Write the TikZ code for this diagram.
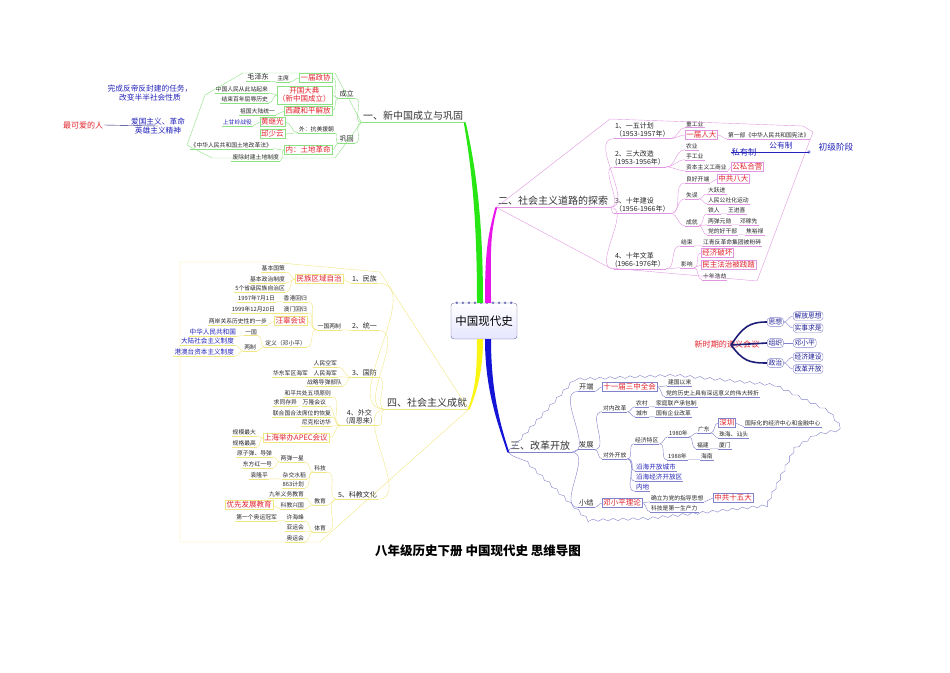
\documentclass[tikz,border=0pt]{standalone}
\usepackage{fontspec}
\newfontfamily\cjk{Noto Sans CJK SC}
\usetikzlibrary{calc,decorations.pathmorphing}

\definecolor{lineA}{RGB}{140,225,130}
\definecolor{lineB}{RGB}{225,150,225}
\definecolor{lineC}{RGB}{130,130,205}
\definecolor{lineD}{RGB}{240,230,130}
\definecolor{trunkA}{RGB}{40,230,20}
\definecolor{trunkB}{RGB}{235,20,235}
\definecolor{trunkC}{RGB}{20,20,215}
\definecolor{trunkD}{RGB}{250,245,20}
\definecolor{inkR}{RGB}{225,35,45}
\definecolor{inkB}{RGB}{35,35,185}
\definecolor{deepblue}{RGB}{30,30,120}

\begin{document}
\begin{tikzpicture}[
    x=1pt, y=-1pt,
    font=\cjk,
    brline/.style={draw=lineA},
    txt/.style={font=\cjk\fontsize{5.8}{6.6}\selectfont, text=black!85, inner sep=0.9pt, align=center},
    leaf/.style={txt, append after command={(\tikzlastnode.south west) edge[brline] (\tikzlastnode.south east)}},
    mid/.style={leaf, font=\cjk\fontsize{7.2}{8.2}\selectfont},
    item/.style={leaf, font=\cjk\fontsize{7}{8.4}\selectfont},
    bleaf/.style={leaf, text=inkB, font=\cjk\fontsize{6.6}{7.5}\selectfont},
    hot/.style={brline, text=inkR, font=\cjk\fontsize{7.5}{8.3}\selectfont, inner sep=1.1pt, align=center},
    note/.style={text=inkB, font=\cjk\fontsize{7.7}{9.2}\selectfont, align=center, inner sep=0.8pt},
    topic/.style={leaf, font=\cjk\fontsize{10}{12}\selectfont, text=black!80, inner sep=1.5pt},
    root/.style={draw=lineC!80!black, rounded corners=3pt, top color=white, bottom color=blue!10,
        minimum width=66pt, minimum height=36pt, font=\cjk\fontsize{11.5}{13}\selectfont},
    pill/.style={draw=lineC, rounded corners=3pt, text=inkB!80!black,
        font=\cjk\fontsize{6.8}{8}\selectfont, inner sep=1.3pt},
    caption/.style={font=\cjk\bfseries\fontsize{12.5}{14}\selectfont}
]
\useasboundingbox (0,0) rectangle (950,672);

\node[root] (ctr) at (484,321) {中国现代史};
\foreach \k in {1,...,10}
    \fill[lineC!90!black] ($(ctr.north west)!\k/11!(ctr.north east)$) circle (1.4pt);

% ============================================================
% 一、新中国成立与巩固
% ============================================================
\begin{scope}[brline/.style={draw=lineA}]
\node[topic] (b1) at (413,116) {一、新中国成立与巩固};
\node[mid, anchor=east] (setup) at (355,94) {成立};
\node[mid, anchor=east] (guard) at (355,139) {巩固};

\node[hot, anchor=east] (zx) at (332,78) {一届政协};
\node[leaf, anchor=east] (zx1) at (290,78) {主席};
\node[mid, anchor=east] (zx2) at (270,77) {毛泽东};
\node[hot, anchor=east] (kg) at (332,95) {开国大典\\（新中国成立）};
\node[leaf, anchor=east] (kg1) at (269,89) {中国人民从此站起来};
\node[leaf, anchor=east] (kg2) at (269,99) {结束百年屈辱历史};
\node[hot, anchor=east] (xz) at (332,111) {西藏和平解放};
\node[leaf, anchor=east] (xz1) at (276,111) {祖国大陆统一};

\node[leaf, anchor=east] (kmyc) at (335,129) {外：抗美援朝};
\node[hot, anchor=east] (hjg) at (285,122) {黄继光};
\node[hot, anchor=east] (qsy) at (285,134) {邱少云};
\node[leaf, anchor=east, text=inkB] (sgl) at (253,122) {上甘岭战役};
\node[hot, anchor=east] (tdgm) at (332,150) {内：土地革命};
\node[leaf, anchor=east] (tdgm1) at (273,145) {《中华人民共和国土地改革法》};
\node[leaf, anchor=east] (tdgm2) at (280,157) {废除封建土地制度};

\foreach \c in {setup, guard}
    \draw[brline] (b1.south west) to[out=180,in=0] (\c.south east);
\foreach \c in {zx, kg, xz}
    \draw[brline] (setup.south west) to[out=180,in=0] (\c.east);
\draw[brline] (zx.west) to[out=180,in=0] (zx1.south east);
\draw[brline] (zx1.south west) to[out=180,in=0] (zx2.south east);
\foreach \c in {kg1, kg2}
    \draw[brline] (kg.west) to[out=180,in=0] (\c.south east);
\draw[brline] (xz.west) to[out=180,in=0] (xz1.south east);
\draw[brline] (guard.south west) to[out=180,in=0] (kmyc.south east);
\draw[brline] (guard.south west) to[out=180,in=0] (tdgm.east);
\foreach \c in {hjg, qsy}
    \draw[brline] (kmyc.south west) to[out=180,in=0] (\c.east);
\draw[brline] (hjg.west) to[out=180,in=0] (sgl.south east);
\foreach \c in {tdgm1, tdgm2}
    \draw[brline] (tdgm.west) to[out=180,in=0] (\c.south east);

\draw[brline] (b1.south west) -- (335,73) -- (243,73) -- (205,95) -- (187,145)
    -- (212,158) -- (335,158) -- cycle;
\end{scope}

% notes beside branch 1
\node[note] (task) at (150,93) {完成反帝反封建的任务，\\改变半半社会性质};
\node[note] (spirit) at (158,126) {爱国主义、革命\\英雄主义精神};
\node[note, text=inkR, font=\cjk\fontsize{8}{9}\selectfont] (love) at (83,125) {最可爱的人};
\draw[deepblue] (love.east) -- (spirit.center);

% ============================================================
% 二、社会主义道路的探索
% ============================================================
\begin{scope}[brline/.style={draw=lineB}]
\node[topic] (b2) at (553,201) {二、社会主义道路的探索};
\node[item, anchor=west, align=left] (plan) at (614,130) {1、一五计划\\（1953-1957年）};
\node[item, anchor=west, align=left] (reform) at (614,158) {2、三大改造\\(1953-1956年）};
\node[item, anchor=west, align=left] (build) at (614,205) {3、十年建设\\（1956-1966年）};
\node[item, anchor=west, align=left] (chaos) at (614,260) {4、十年文革\\(1966-1976年）};

\node[leaf, anchor=west] (heavy) at (685,124) {重工业};
\node[hot, anchor=west] (npc) at (685,135) {一届人大};
\node[leaf, anchor=west] (law) at (727,135) {第一部《中华人民共和国宪法》};

\node[leaf, anchor=west] (agri) at (685,146) {农业};
\node[leaf, anchor=west] (craft) at (685,156) {手工业};
\node[leaf, anchor=west] (capital) at (685,167) {资本主义工商业};
\node[hot, anchor=west] (joint) at (731,167) {公私合营};

\node[leaf, anchor=west] (good) at (685,179) {良好开端};
\node[hot, anchor=west] (bada) at (717,179) {中共八大};
\node[leaf, anchor=west] (miss) at (685,195) {失误};
\node[leaf, anchor=west] (leap) at (707,190) {大跃进};
\node[leaf, anchor=west] (commune) at (707,200) {人民公社化运动};
\node[leaf, anchor=west] (gain) at (685,222) {成就};
\node[leaf, anchor=west] (tr) at (707,210) {铁人};
\node[leaf, anchor=west] (wjx) at (727,210) {王进喜};
\node[leaf, anchor=west] (ld) at (707,221) {两弹元勋};
\node[leaf, anchor=west] (djx) at (739,221) {邓稼先};
\node[leaf, anchor=west] (gb) at (707,231) {党的好干部};
\node[leaf, anchor=west] (jyl) at (745,231) {焦裕禄};

\node[leaf, anchor=west] (fin) at (680,242) {结束};
\node[leaf, anchor=west] (jq) at (702,242) {江青反革命集团被粉碎};
\node[leaf, anchor=west] (eff) at (680,264) {影响};
\node[hot, anchor=west] (econ) at (701,253) {经济破坏};
\node[hot, anchor=west] (demo) at (701,265) {民主法治被践踏};
\node[leaf, anchor=west] (ten) at (702,276) {十年浩劫};

\foreach \c in {plan, reform, build, chaos}
    \draw[brline] (b2.south east) to[out=0,in=180] (\c.south west);
\draw[brline] (plan.south east) to[out=0,in=180] (heavy.south west);
\draw[brline] (plan.south east) to[out=0,in=180] (npc.west);
\draw[brline] (npc.east) to[out=0,in=180] (law.south west);
\foreach \c in {agri, craft, capital}
    \draw[brline] (reform.south east) to[out=0,in=180] (\c.south west);
\draw[brline] (capital.south east) to[out=0,in=180] (joint.west);
\foreach \c in {good, miss, gain}
    \draw[brline] (build.south east) to[out=0,in=180] (\c.south west);
\draw[brline] (good.south east) to[out=0,in=180] (bada.west);
\foreach \c in {leap, commune}
    \draw[brline] (miss.south east) to[out=0,in=180] (\c.south west);
\foreach \c in {tr, ld, gb}
    \draw[brline] (gain.south east) to[out=0,in=180] (\c.south west);
\draw[brline] (tr.south east) -- (wjx.south west);
\draw[brline] (ld.south east) -- (djx.south west);
\draw[brline] (gb.south east) -- (jyl.south west);
\foreach \c in {fin, eff}
    \draw[brline] (chaos.south east) to[out=0,in=180] (\c.south west);
\draw[brline] (fin.south east) -- (jq.south west);
\foreach \c in {econ, demo}
    \draw[brline] (eff.south east) to[out=0,in=180] (\c.west);
\draw[brline] (eff.south east) to[out=0,in=180] (ten.south west);

\draw[brline] (b2.south west) -- (610,119) -- (803,126) -- (813,132) -- (757,281)
    -- (610,268) -- cycle;
\end{scope}

% ownership note
\node[note, font=\cjk\fontsize{8.3}{9}\selectfont] (own1) at (744,152) {私有制};
\node[note] (own2) at (781,146) {公有制};
\node[note, font=\cjk\fontsize{8.7}{10}\selectfont] (own3) at (836,147) {初级阶段};
\coordinate (ownend) at (809,152);
\draw[inkB, thick] (own1.west) -- (ownend);
\draw[inkB] (ownend) circle (1.3pt);

% ============================================================
% 新时期的遵义会议
% ============================================================
\node[note, text=inkR, font=\cjk\fontsize{8.1}{9}\selectfont] (zy) at (727,344) {新时期的遵义会议};
\coordinate (zyhub) at (731,345);
\node[pill, anchor=west] (sx) at (767,322) {思想};
\node[pill, anchor=west] (zz) at (767,343) {组织};
\node[pill, anchor=west] (zhz) at (767,363) {政治};
\node[pill, anchor=west] (jf) at (793,316) {解放思想};
\node[pill, anchor=west] (ss) at (793,328) {实事求是};
\node[pill, anchor=west] (dx) at (793,343) {邓小平};
\node[pill, anchor=west] (jj) at (793,357) {经济建设};
\node[pill, anchor=west] (gk) at (793,369) {改革开放};

\draw[deepblue, line width=1.6pt] (zyhub) .. controls +(12,-18) and +(-18,0) .. (sx.west);
\draw[deepblue, line width=1.6pt] (zyhub) -- (zz.west);
\draw[deepblue, line width=1.6pt] (zyhub) .. controls +(12,16) and +(-18,0) .. (zhz.west);
\foreach \c in {jf, ss}
    \draw[lineC] (sx.east) to[out=0,in=180] (\c.west);
\draw[lineC] (zz.east) -- (dx.west);
\foreach \c in {jj, gk}
    \draw[lineC] (zhz.east) to[out=0,in=180] (\c.west);

% ============================================================
% 三、改革开放
% ============================================================
\begin{scope}[brline/.style={draw=lineC}]
\node[topic] (b3) at (540,446) {三、改革开放};
\node[mid, anchor=west] (open) at (578,387) {开端};
\node[mid, anchor=west] (grow) at (578,445) {发展};
\node[mid, anchor=west] (sum) at (578,503) {小结};

\node[hot, anchor=west] (sz) at (602,387) {十一届三中全会};
\node[leaf, anchor=west] (jg) at (667,382) {建国以来};
\node[leaf, anchor=west] (turn) at (665,393) {党的历史上具有深远意义的伟大转折};

\node[leaf, anchor=west] (inner) at (602,408) {对内改革};
\node[leaf, anchor=west] (rural) at (635,403) {农村};
\node[leaf, anchor=west] (hh) at (655,403) {家庭联产承包制};
\node[leaf, anchor=west] (urban) at (635,413) {城市};
\node[leaf, anchor=west] (soe) at (655,413) {国有企业改革};

\node[leaf, anchor=west] (outer) at (602,455) {对外开放};
\node[leaf, anchor=west] (sez) at (634,440) {经济特区};
\node[leaf, anchor=west] (y80) at (668,433) {1980年};
\node[leaf, anchor=west] (gd) at (697,429) {广东};
\node[hot, anchor=west] (szn) at (718,423) {深圳};
\node[leaf, anchor=west] (intl) at (744,423) {国际化的经济中心和金融中心};
\node[leaf, anchor=west] (zhst) at (718,434) {珠海、汕头};
\node[leaf, anchor=west] (fj) at (696,445) {福建};
\node[leaf, anchor=west] (xm) at (718,445) {厦门};
\node[leaf, anchor=west] (y88) at (667,456) {1988年};
\node[leaf, anchor=west] (hn) at (700,456) {海南};
\node[bleaf, anchor=west] (coast1) at (635,467) {沿海开放城市};
\node[bleaf, anchor=west] (coast2) at (635,477) {沿海经济开放区};
\node[bleaf, anchor=west] (inland) at (635,487) {内地};

\node[hot, anchor=west] (dxp) at (602,503) {邓小平理论};
\node[leaf, anchor=west] (guide) at (650,498) {确立为党的指导思想};
\node[hot, anchor=west] (cpc) at (713,498) {中共十五大};
\node[leaf, anchor=west] (force) at (650,508) {科技是第一生产力};

\foreach \c in {open, grow, sum}
    \draw[brline] (b3.south east) to[out=0,in=180] (\c.south west);
\draw[brline] (open.south east) to[out=0,in=180] (sz.west);
\foreach \c in {jg, turn}
    \draw[brline] (sz.east) to[out=0,in=180] (\c.south west);
\foreach \c in {inner, outer}
    \draw[brline] (grow.south east) to[out=0,in=180] (\c.south west);
\foreach \c in {rural, urban}
    \draw[brline] (inner.south east) to[out=0,in=180] (\c.south west);
\draw[brline] (rural.south east) -- (hh.south west);
\draw[brline] (urban.south east) -- (soe.south west);
\foreach \c in {sez, coast1, coast2, inland}
    \draw[brline] (outer.south east) to[out=0,in=180] (\c.south west);
\foreach \c in {y80, y88}
    \draw[brline] (sez.south east) to[out=0,in=180] (\c.south west);
\foreach \c in {gd, fj}
    \draw[brline] (y80.south east) to[out=0,in=180] (\c.south west);
\draw[brline] (gd.south east) to[out=0,in=180] (szn.west);
\draw[brline] (gd.south east) to[out=0,in=180] (zhst.south west);
\draw[brline] (szn.east) -- (intl.south west);
\draw[brline] (fj.south east) -- (xm.south west);
\draw[brline] (y88.south east) -- (hn.south west);
\draw[brline] (sum.south east) to[out=0,in=180] (dxp.west);
\foreach \c in {guide, force}
    \draw[brline] (dxp.east) to[out=0,in=180] (\c.south west);
\draw[brline] (guide.south east) to[out=0,in=180] (cpc.west);

\draw[brline, decorate, decoration={snake, amplitude=1.2pt, segment length=10pt}]
    (b3.south west) -- (573,381) -- (670,377) -- (770,387) -- (826,414) -- (836,428)
    -- (810,433) -- (787,448) -- (760,503) -- (640,516) -- (578,518) -- cycle;
\end{scope}

% ============================================================
% 四、社会主义成就
% ============================================================
\begin{scope}[brline/.style={draw=lineD}]
\node[topic] (b4) at (427,403) {四、社会主义成就};
\node[item, anchor=east] (nat) at (378,279) {1、民族};
\node[item, anchor=east] (uni) at (378,326) {2、统一};
\node[item, anchor=east] (def) at (378,373) {3、国防};
\node[item, anchor=east] (dip) at (378,417) {4、外交\\（周恩来）};
\node[item, anchor=east] (sct) at (378,495) {5、科教文化};

\node[hot, anchor=east] (auto) at (343,279) {民族区域自治};
\node[leaf, anchor=east] (pol1) at (286,268) {基本国策};
\node[leaf, anchor=east] (pol2) at (286,279) {基本政治制度};
\node[leaf, anchor=east] (pol3) at (286,288) {5个省级民族自治区};

\node[leaf, anchor=east] (ocs) at (342,326) {一国两制};
\node[leaf, anchor=east] (hk) at (308,298) {香港回归};
\node[leaf, anchor=east] (hk1) at (276,298) {1997年7月1日};
\node[leaf, anchor=east] (mo) at (308,309) {澳门回归};
\node[leaf, anchor=east] (mo1) at (276,309) {1999年12月20日};
\node[hot, anchor=east] (wg) at (307,321) {汪辜会谈};
\node[leaf, anchor=east] (wg1) at (268,321) {两岸关系历史性的一步};
\node[leaf, anchor=east] (meaning) at (307,343) {定义（邓小平）};
\node[leaf, anchor=east] (one) at (258,332) {一国};
\node[bleaf, anchor=east] (prc) at (237,332) {中华人民共和国};
\node[leaf, anchor=east] (two) at (257,347) {两制};
\node[bleaf, anchor=east] (mainland) at (235,341) {大陆社会主义制度};
\node[bleaf, anchor=east] (hmt) at (235,352) {港澳台资本主义制度};

\node[leaf, anchor=east] (air) at (338,363) {人民空军};
\node[leaf, anchor=east] (sea) at (338,373) {人民海军};
\node[leaf, anchor=east] (sea1) at (309,373) {华东军区海军};
\node[leaf, anchor=east] (missile) at (343,382) {战略导弹部队};

\node[leaf, anchor=east] (five) at (332,393) {和平共处五项原则};
\node[leaf, anchor=east] (bandung) at (327,402) {万隆会议};
\node[leaf, anchor=east] (qt) at (298,402) {求同存异};
\node[leaf, anchor=east] (un) at (332,413) {联合国合法席位的恢复};
\node[leaf, anchor=east] (nixon) at (332,422) {尼克松访华};
\node[hot, anchor=east] (apec) at (329,438) {上海举办APEC会议};
\node[leaf, anchor=east] (big) at (257,432) {规模最大};
\node[leaf, anchor=east] (high) at (257,443) {规格最高};

\node[leaf, anchor=east] (tech) at (327,468) {科技};
\node[leaf, anchor=east] (bomb) at (305,458) {两弹一星};
\node[leaf, anchor=east] (atom) at (273,453) {原子弹、导弹};
\node[leaf, anchor=east] (dfh) at (273,464) {东方红一号};
\node[leaf, anchor=east] (rice) at (307,475) {杂交水稻};
\node[leaf, anchor=east] (ylp) at (269,475) {袁隆平};
\node[leaf, anchor=east] (p863) at (305,484) {863计划};
\node[leaf, anchor=east] (edu) at (327,501) {教育};
\node[leaf, anchor=east] (nine) at (305,494) {九年义务教育};
\node[leaf, anchor=east] (kjxg) at (305,505) {科教兴国};
\node[hot, anchor=east] (prior) at (273,505) {优先发展教育};
\node[leaf, anchor=east] (sport) at (327,528) {体育};
\node[leaf, anchor=east] (xhf) at (305,517) {许海峰};
\node[leaf, anchor=east] (champ) at (278,517) {第一个奥运冠军};
\node[leaf, anchor=east] (asian) at (305,527) {亚运会};
\node[leaf, anchor=east] (olymp) at (305,538) {奥运会};

\foreach \c in {nat, uni, def, dip, sct}
    \draw[brline] (b4.south west) to[out=180,in=0] (\c.south east);
\draw[brline] (nat.south west) -- (auto.east);
\foreach \c in {pol1, pol2, pol3}
    \draw[brline] (auto.west) to[out=180,in=0] (\c.south east);
\draw[brline] (uni.south west) -- (ocs.south east);
\foreach \c in {hk, mo, meaning}
    \draw[brline] (ocs.south west) to[out=180,in=0] (\c.south east);
\draw[brline] (ocs.south west) to[out=180,in=0] (wg.east);
\draw[brline] (hk.south west) -- (hk1.south east);
\draw[brline] (mo.south west) -- (mo1.south east);
\draw[brline] (wg.west) -- (wg1.south east);
\foreach \c in {one, two}
    \draw[brline] (meaning.south west) to[out=180,in=0] (\c.south east);
\draw[brline] (one.south west) -- (prc.south east);
\foreach \c in {mainland, hmt}
    \draw[brline] (two.south west) to[out=180,in=0] (\c.south east);
\foreach \c in {air, sea, missile}
    \draw[brline] (def.south west) to[out=180,in=0] (\c.south east);
\draw[brline] (sea.south west) -- (sea1.south east);
\foreach \c in {five, bandung, un, nixon}
    \draw[brline] (dip.south west) to[out=180,in=0] (\c.south east);
\draw[brline] (dip.south west) to[out=180,in=0] (apec.east);
\draw[brline] (bandung.south west) -- (qt.south east);
\foreach \c in {big, high}
    \draw[brline] (apec.west) to[out=180,in=0] (\c.south east);
\foreach \c in {tech, edu, sport}
    \draw[brline] (sct.south west) to[out=180,in=0] (\c.south east);
\foreach \c in {bomb, rice, p863}
    \draw[brline] (tech.south west) to[out=180,in=0] (\c.south east);
\foreach \c in {atom, dfh}
    \draw[brline] (bomb.south west) to[out=180,in=0] (\c.south east);
\draw[brline] (rice.south west) -- (ylp.south east);
\foreach \c in {nine, kjxg}
    \draw[brline] (edu.south west) to[out=180,in=0] (\c.south east);
\draw[brline] (kjxg.south west) -- (prior.east);
\foreach \c in {xhf, asian, olymp}
    \draw[brline] (sport.south west) to[out=180,in=0] (\c.south east);
\draw[brline] (xhf.south west) -- (champ.south east);

\draw[brline] (b4.south east) -- (380,272) -- (270,262) -- (180,262) -- (180,542)
    -- (320,542) -- cycle;
\end{scope}

% ============================================================
% main branches (tapered)
% ============================================================
\fill[trunkA] ([xshift=-7pt]ctr.north) .. controls +(0,-90) and +(7,40) .. ([xshift=-1pt]b1.south east)
    -- ([xshift=1pt]b1.south east) .. controls +(9,40) and +(0,-90) .. ([xshift=-1pt]ctr.north) -- cycle;
\fill[trunkB] ([xshift=1pt]ctr.north) .. controls +(0,-50) and +(-8,30) .. ([xshift=-1pt]b2.south west)
    -- ([xshift=1pt]b2.south west) .. controls +(-8,30) and +(0,-50) .. ([xshift=7pt]ctr.north) -- cycle;
\fill[trunkD] ([xshift=-7pt]ctr.south) .. controls +(0,30) and +(8,-20) .. ([xshift=-1pt]b4.south east)
    -- ([xshift=1pt]b4.south east) .. controls +(8,-20) and +(0,30) .. ([xshift=-1pt]ctr.south) -- cycle;
\fill[trunkC] ([xshift=1pt]ctr.south) .. controls +(0,50) and +(-10,-30) .. ([xshift=-1pt]b3.south west)
    -- ([xshift=1pt]b3.south west) .. controls +(-10,-30) and +(0,50) .. ([xshift=7pt]ctr.south) -- cycle;

\node[caption] (title) at (478,551) {八年级历史下册 中国现代史 思维导图};
\end{tikzpicture}
\end{document}
